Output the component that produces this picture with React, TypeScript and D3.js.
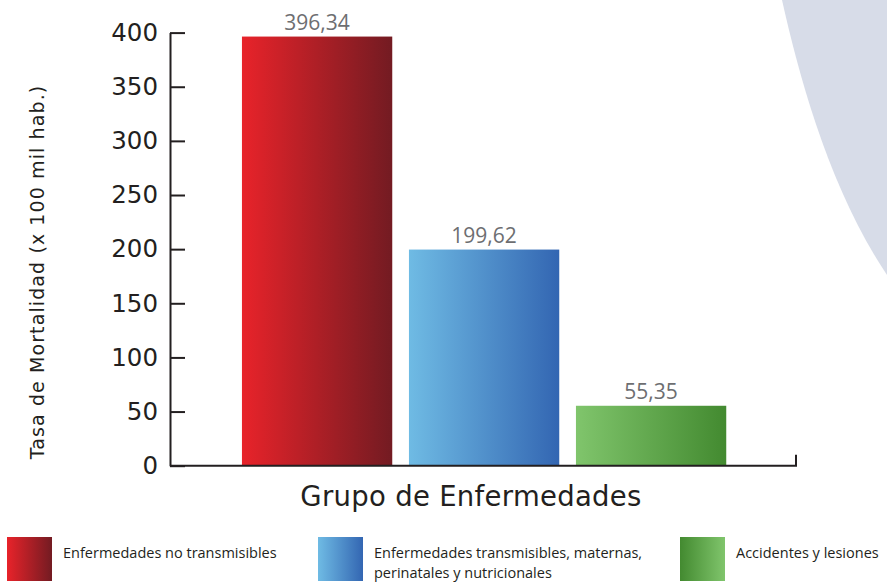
import React, { useEffect, useRef } from 'react';
import * as d3 from 'd3';

// chart values
const categories = [
  'Enfermedades no transmisibles',
  'Enfermedades transmisibles, maternas, perinatales y nutricionales',
  'Accidentes y lesiones',
];
const values = [396.34, 199.62, 55.35];
const valueLabels = ['396,34', '199,62', '55,35'];
const yTicks = [0, 50, 100, 150, 200, 250, 300, 350, 400];
const barColors = [
  ['#e8232a', '#731b22'],
  ['#6fbbe4', '#3366b2'],
  ['#80c56c', '#438a30'],
];
const legendLines = [
  ['Enfermedades no transmisibles'],
  ['Enfermedades transmisibles, maternas,', 'perinatales y nutricionales'],
  ['Accidentes y lesiones'],
];

const W = 887;
const H = 583;
const ink = '#231f20';

const App = () => {
  const ref = useRef<SVGSVGElement | null>(null);

  useEffect(() => {
    const svg = d3.select(ref.current);
    svg.selectAll('*').remove();

    // background shape on the right
    svg.append('path')
      .attr('d', `M782,0 C800,80 830,190 ${W},275 L${W},0 Z`)
      .attr('fill', '#d7dce8');

    const defs = svg.append('defs');
    barColors.forEach((c, i) => {
      const g = defs.append('linearGradient').attr('id', `bar-${i}`)
        .attr('x1', '0%').attr('x2', '100%').attr('y1', '0%').attr('y2', '0%');
      g.append('stop').attr('offset', '0%').attr('stop-color', c[0]);
      g.append('stop').attr('offset', '100%').attr('stop-color', c[1]);
    });
    // legend swatch for the green one runs the other way
    const gl = defs.append('linearGradient').attr('id', 'leg-2')
      .attr('x1', '0%').attr('x2', '100%').attr('y1', '0%').attr('y2', '0%');
    gl.append('stop').attr('offset', '0%').attr('stop-color', barColors[2][1]);
    gl.append('stop').attr('offset', '100%').attr('stop-color', barColors[2][0]);

    const axisX = 170;
    const axisEnd = 796;

    const y = d3.scaleLinear().domain([0, 400]).range([465.7, 32.6]);
    const x = d3.scaleBand<string>()
      .domain(categories)
      .range([233.6, 734.6])
      .paddingInner(0.1)
      .paddingOuter(0.05);

    // bars
    svg.append('g').selectAll('rect')
      .data(values)
      .enter()
      .append('rect')
      .attr('x', (d, i) => x(categories[i]) as number)
      .attr('y', d => y(d))
      .attr('width', x.bandwidth())
      .attr('height', d => y(0) - y(d))
      .attr('fill', (d, i) => `url(#bar-${i})`);

    // value labels
    svg.append('g').selectAll('text')
      .data(values)
      .enter()
      .append('text')
      .attr('x', (d, i) => (x(categories[i]) as number) + x.bandwidth() / 2)
      .attr('y', d => y(d) - 7)
      .attr('text-anchor', 'middle')
      .style('font-family', '"Open Sans", sans-serif')
      .style('font-size', '21px')
      .style('fill', '#6d6e71')
      .text((d, i) => valueLabels[i]);

    // y axis
    const yAxis = d3.axisLeft(y)
      .tickValues(yTicks)
      .tickSizeInner(-15)
      .tickSizeOuter(0)
      .tickPadding(12)
      .tickFormat(d => String(d));
    const ya = svg.append('g')
      .attr('transform', `translate(${axisX},0)`)
      .call(yAxis);
    ya.select('.domain').attr('stroke', ink).attr('stroke-width', 2);
    ya.selectAll('.tick line').attr('stroke', ink).attr('stroke-width', 2);
    ya.selectAll('.tick text')
      .attr('fill', ink)
      .style('font-family', '"DejaVu Sans", sans-serif')
      .style('font-size', '24.5px');

    // x axis baseline with end tick
    svg.append('path')
      .attr('d', `M${axisX},${y(0)} L${axisEnd},${y(0)} L${axisEnd},${y(0) - 11}`)
      .attr('fill', 'none')
      .attr('stroke', ink)
      .attr('stroke-width', 2);

    // axis titles
    svg.append('text')
      .attr('transform', `translate(44,${272}) rotate(-90)`)
      .attr('text-anchor', 'middle')
      .style('font-family', '"DejaVu Sans", sans-serif')
      .style('font-size', '19px')
      .style('letter-spacing', '1.1px')
      .style('fill', ink)
      .text('Tasa de Mortalidad (x 100 mil hab.)');

    svg.append('text')
      .attr('x', 471)
      .attr('y', 506)
      .attr('text-anchor', 'middle')
      .style('font-family', '"DejaVu Sans", sans-serif')
      .style('font-size', '27.5px')
      .style('letter-spacing', '0.3px')
      .style('fill', ink)
      .text('Grupo de Enfermedades');

    // legend
    const legX = [7, 318, 680];
    const leg = svg.append('g').selectAll('g')
      .data(legendLines)
      .enter()
      .append('g')
      .attr('transform', (d, i) => `translate(${legX[i]},537)`);
    leg.append('rect')
      .attr('width', 45)
      .attr('height', 44)
      .attr('fill', (d, i) => (i === 2 ? 'url(#leg-2)' : `url(#bar-${i})`));
    leg.append('text')
      .attr('x', 56)
      .attr('y', 21)
      .style('font-family', '"Open Sans", sans-serif')
      .style('font-size', '14.5px')
      .style('fill', ink)
      .selectAll('tspan')
      .data(d => d)
      .enter()
      .append('tspan')
      .attr('x', 56)
      .attr('dy', (d, j) => (j === 0 ? 0 : 20))
      .text(d => d);
  }, []);

  return (
    <svg ref={ref} width={W} height={H}
      style={{ position: 'absolute', left: 0, top: 0, background: '#fff' }} />
  );
};

export default App;
